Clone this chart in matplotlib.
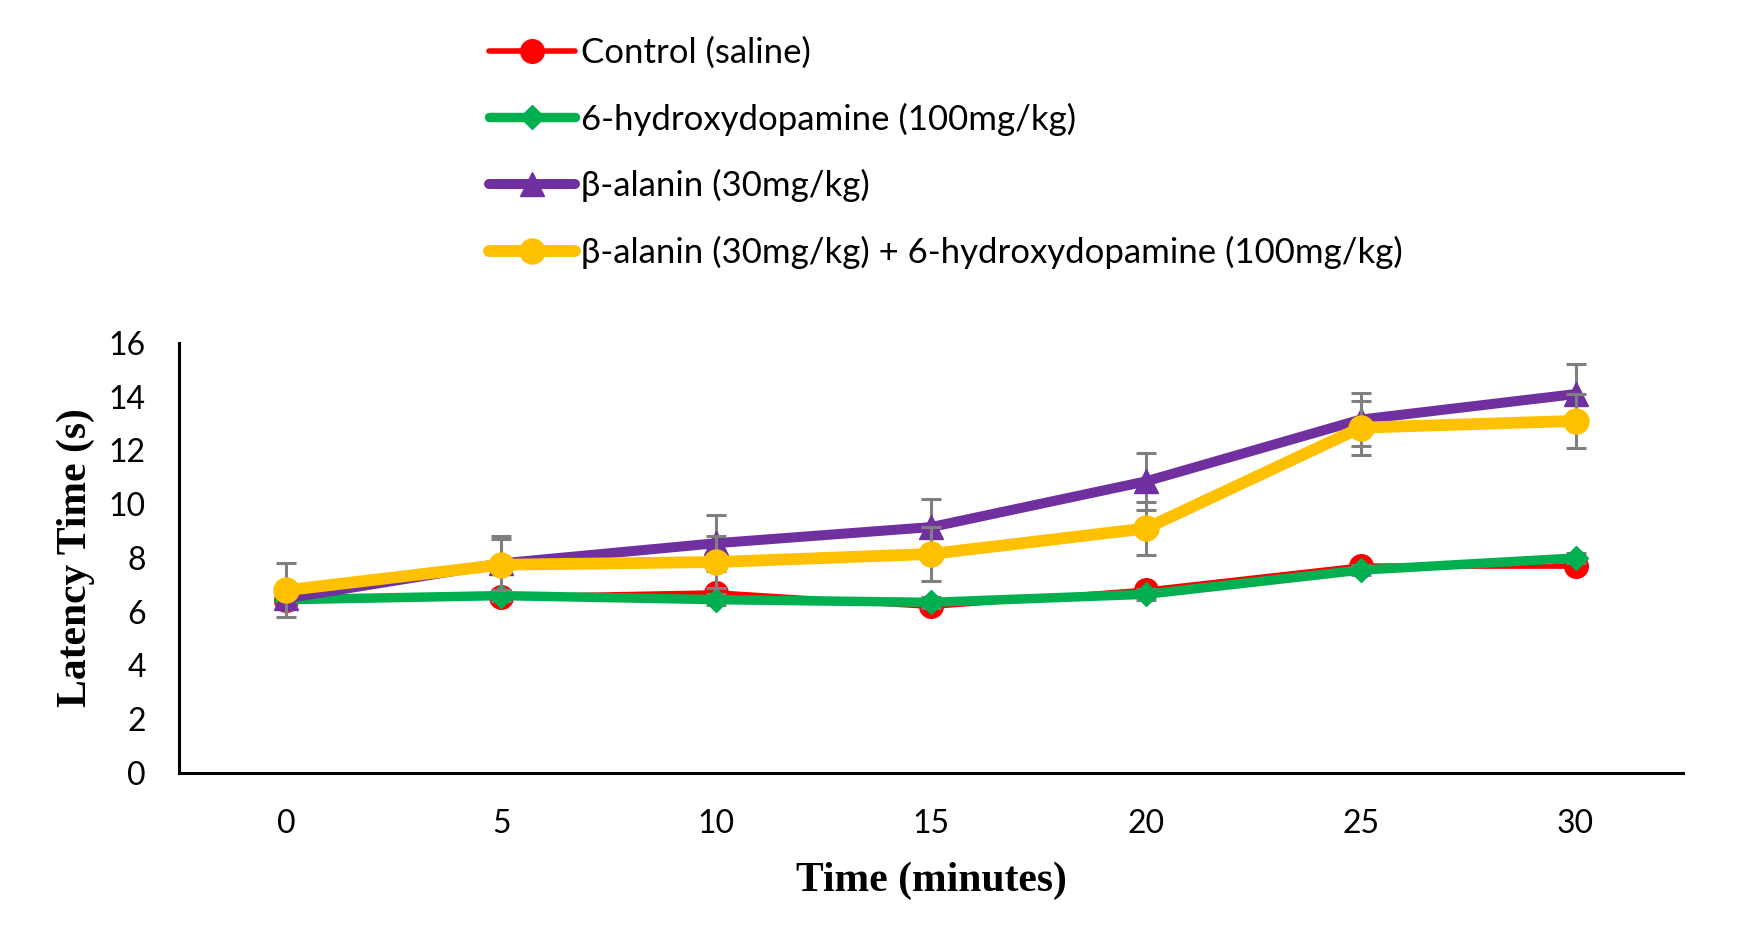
import matplotlib
matplotlib.use("Agg")
import matplotlib.pyplot as plt

# time points (minutes)
time_min = [0, 5, 10, 15, 20, 25, 30]

labels = ["Control (saline)",
          "6-hydroxydopamine (100mg/kg)",
          "\u03b2-alanin (30mg/kg)",
          "\u03b2-alanin (30mg/kg) + 6-hydroxydopamine (100mg/kg)"]

control = [6.45, 6.55, 6.7, 6.2, 6.8, 7.7, 7.7]
ohda = [6.45, 6.6, 6.45, 6.35, 6.65, 7.55, 8.0]
balanin = [6.5, 7.8, 8.55, 9.15, 10.85, 13.15, 14.1]
combo = [6.8, 7.75, 7.85, 8.15, 9.1, 12.85, 13.1]

control_err = [0.2, 0.2, 0.2, 0.2, 0.2, 0.2, 0.2]
ohda_err = [0.2, 0.2, 0.2, 0.2, 0.2, 0.2, 0.2]
balanin_err = [0.3, 1.0, 1.05, 1.05, 1.05, 1.0, 1.1]
combo_err = [1.0, 0.95, 0.95, 1.0, 1.0, 1.0, 1.0]

yticks = [0, 2, 4, 6, 8, 10, 12, 14, 16]

fig = plt.figure(figsize=(17.45, 9.42), dpi=100)
ax = fig.add_axes([0.1026, 0.1794, 0.8619, 0.4565])

series = [
    (control, control_err, "#FF0000", "o", 4.0, 17),
    (ohda, ohda_err, "#00B050", "D", 6.8, 12),
    (balanin, balanin_err, "#7030A0", "^", 7.2, 17),
    (combo, combo_err, "#FFC000", "o", 8.5, 18),
]

handles = []
for i, (vals, err, col, mk, lw, ms) in enumerate(series):
    ax.errorbar(time_min, vals, yerr=err, fmt="none", ecolor="#7F7F7F",
                elinewidth=2.2, capsize=7, capthick=2.2, zorder=2 + i * 2)
    h, = ax.plot(time_min, vals, color=col, marker=mk, lw=lw, ms=ms,
                 solid_joinstyle="round", solid_capstyle="round",
                 zorder=3 + i * 2, label=labels[i])
    handles.append(h)

ax.set_xlim(-2.5, 32.5)
ax.set_ylim(0, 16)
ax.set_xticks(time_min)
ax.set_yticks(yticks)
for s in ["top", "right"]:
    ax.spines[s].set_visible(False)
for s in ["left", "bottom"]:
    ax.spines[s].set_linewidth(2.2)
ax.tick_params(axis="both", length=0, labelsize=23)
ax.tick_params(axis="x", pad=26)
ax.tick_params(axis="y", pad=24)
for t in ax.get_xticklabels() + ax.get_yticklabels():
    t.set_fontfamily("Lato")

ax.set_xlabel("Time (minutes)", fontfamily="Liberation Serif",
              fontweight="bold", fontsize=30, labelpad=16)
ax.set_ylabel("Latency Time (s)", fontfamily="Liberation Serif",
              fontweight="bold", fontsize=30, labelpad=10)

fig.legend(handles=handles, loc="upper left", bbox_to_anchor=(0.272, 0.976),
           frameon=False, prop={"family": "Lato", "size": 25},
           handlelength=2.5, handletextpad=0.15, labelspacing=0.97,
           numpoints=1, borderaxespad=0)

fig.savefig("out.png", dpi=100)
